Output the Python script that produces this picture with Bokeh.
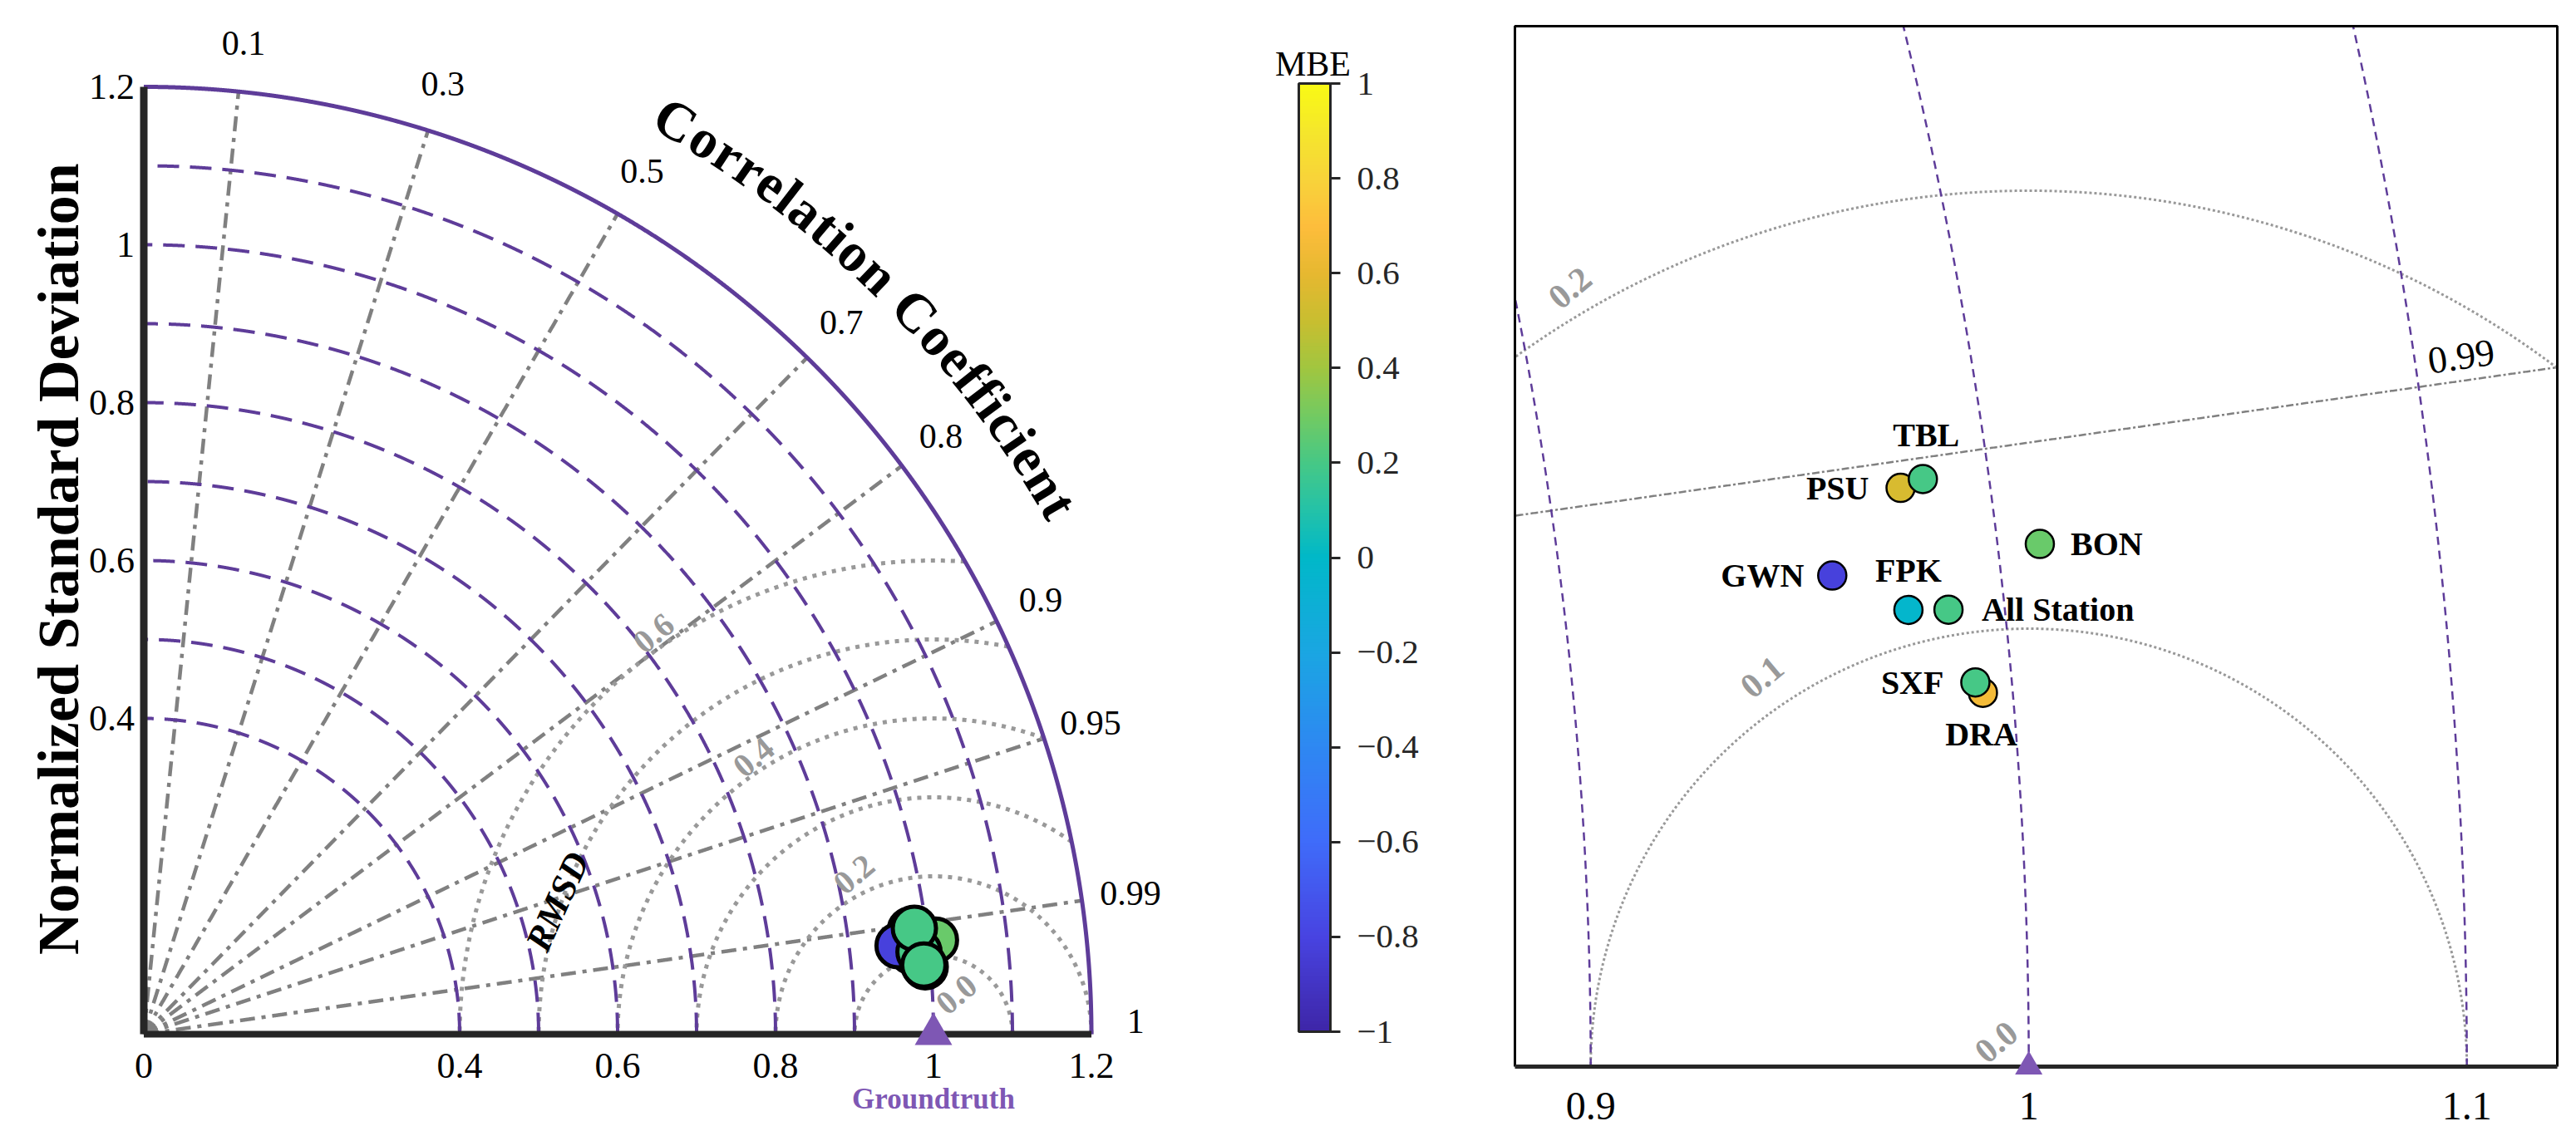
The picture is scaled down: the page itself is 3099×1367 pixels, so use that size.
import numpy as np
from bokeh.plotting import figure
from bokeh.models import Range1d, ColumnDataSource, LinearColorMapper, ColorBar, FixedTicker
from bokeh.layouts import row
from bokeh.embed import file_html
from bokeh.resources import INLINE
from bokeh.core.properties import value
from bokeh.transform import transform

# ---------------- data ----------------
stations = ["PSU", "DRA", "FPK", "GWN", "BON", "All Station", "TBL", "SXF"]
norm_std = [0.9797, 0.9932, 0.9781, 0.9617, 1.0096, 0.9872, 0.9850, 0.9917]
corr_coef = [0.99086, 0.99630, 0.99430, 0.99318, 0.99299, 0.99440, 0.99068, 0.99608]
mbe = [0.55, 0.66, -0.03, -0.82, 0.28, 0.20, 0.20, 0.20]

ref_std = 1.0
corr_ticks = [0.1, 0.3, 0.5, 0.7, 0.8, 0.9, 0.95, 0.99]
corr_tick_labels = ["0.1", "0.3", "0.5", "0.7", "0.8", "0.9", "0.95", "0.99"]
std_arcs = [0.4, 0.5, 0.6, 0.7, 0.8, 0.9, 1.0, 1.1]
std_max = 1.2
rmsd_levels = [0.1, 0.2, 0.3, 0.4, 0.5, 0.6]
x_ticks = [0, 0.4, 0.6, 0.8, 1.0, 1.2]
x_tick_labels = ["0", "0.4", "0.6", "0.8", "1", "1.2"]
y_ticks = [0.4, 0.6, 0.8, 1.0, 1.2]
y_tick_labels = ["0.4", "0.6", "0.8", "1", "1.2"]
mbe_ticks = [-1, -0.8, -0.6, -0.4, -0.2, 0, 0.2, 0.4, 0.6, 0.8, 1]
mbe_tick_labels = ["\u22121", "\u22120.8", "\u22120.6", "\u22120.4", "\u22120.2", "0",
                   "0.2", "0.4", "0.6", "0.8", "1"]
zoom_ticks = [0.9, 1.0, 1.1]
zoom_tick_labels = ["0.9", "1", "1.1"]
rmsd_left_labels = ["0.0", "0.2", "0.4", "0.6"]
rmsd_right_labels = ["0.0", "0.1", "0.2"]

# ---------------- styles / positions ----------------
FONT = value("Liberation Serif")
PURPLE = "#5e3c99"
GT = "#7e57b4"
GRAY = "#808080"
LGRAY = "#999999"
DARK = "#262626"

stop_v = [-1, -0.8, -0.6, -0.4, -0.2, 0, 0.1, 0.2, 0.3, 0.4, 0.5, 0.6, 0.7, 0.8, 0.9, 1]
stop_c = ["#3e26a8", "#4844e2", "#3f6cfa", "#2e88f2", "#1aa6e2", "#00b8c8", "#24c2a8",
          "#46c886", "#72ca62", "#a0c640", "#c8be30", "#e6b830", "#fdbd3c", "#f8d33a",
          "#f5e62c", "#f9f915"]


def h2r(h):
    return [int(h[i:i + 2], 16) for i in (1, 3, 5)]


vals = np.linspace(-1, 1, 256)
chan = [np.interp(vals, stop_v, [h2r(c)[k] for c in stop_c]) for k in range(3)]
palette = ["#%02x%02x%02x" % (int(round(r)), int(round(g)), int(round(b))) for r, g, b in zip(*chan)]
mapper = LinearColorMapper(palette=palette, low=-1, high=1)

std = np.array(norm_std)
cc = np.array(corr_coef)
px = std * cc
py = std * np.sqrt(1 - cc ** 2)

lab_align = {"PSU": "right", "DRA": "center", "FPK": "center", "GWN": "right",
             "BON": "left", "All Station": "left", "TBL": "center", "SXF": "right"}
lab_dx = {"PSU": -38, "DRA": -2, "FPK": 0, "GWN": -34, "BON": 37, "All Station": 40, "TBL": 4, "SXF": -38}
lab_dy = {"PSU": 0, "DRA": 50, "FPK": -47, "GWN": 0, "BON": 0, "All Station": 0, "TBL": -53, "SXF": 0}

src = ColumnDataSource(dict(x=px, y=py, mbe=mbe, name=stations,
                            al=[lab_align[s] for s in stations],
                            dx=[lab_dx[s] for s in stations],
                            dy=[lab_dy[s] for s in stations]))


def clip(x, y, box):
    x = np.asarray(x)
    y = np.asarray(y)
    if box is None:
        return list(x), list(y)
    m = (x >= box[0]) & (x <= box[1]) & (y >= box[2]) & (y <= box[3])
    return list(x[m]), list(y[m])


def draw_grid(p, arc_w, arc_dash, outer_w, corr_w, corr_dash, rms_w, rms_dash, box=None, n=4000):
    th = np.linspace(0, np.pi / 2, n)
    # correlation rays
    t = np.linspace(0, std_max, n)
    xs, ys = [], []
    for c in corr_ticks:
        a, b = clip(t * c, t * np.sqrt(1 - c * c), box)
        xs.append(a)
        ys.append(b)
    p.multi_line(xs, ys, line_color=GRAY, line_width=corr_w, line_dash=corr_dash)
    # RMSD circles
    xs, ys = [], []
    t2 = np.linspace(0, np.pi, n)
    for r in rmsd_levels:
        cx = ref_std + r * np.cos(t2)
        cy = r * np.sin(t2)
        m = np.hypot(cx, cy) <= std_max
        a, b = clip(cx[m], cy[m], box)
        xs.append(a)
        ys.append(b)
    p.multi_line(xs, ys, line_color=LGRAY, line_width=rms_w, line_dash=rms_dash)
    # std arcs
    xs, ys = [], []
    for r in std_arcs:
        a, b = clip(r * np.cos(th), r * np.sin(th), box)
        xs.append(a)
        ys.append(b)
    p.multi_line(xs, ys, line_color=PURPLE, line_width=arc_w, line_dash=arc_dash)
    a, b = clip(std_max * np.cos(th), std_max * np.sin(th), box)
    p.line(a, b, line_color=PURPLE, line_width=outer_w)


H = 1367
# ================= left: Taylor diagram =================
SC = 950.0
OX, OY = 172.5, 1244.0
WL = 1780
L = figure(width=WL, height=H,
           x_range=Range1d(-OX / SC, (WL - OX) / SC),
           y_range=Range1d(-(H - OY) / SC, OY / SC),
           x_axis_type=None, y_axis_type=None, toolbar_location=None,
           output_backend="svg", min_border=0, outline_line_color=None)
L.grid.visible = False

draw_grid(L, 4, "26 13", 5, 4.5, "18 8 5 8", 5, "5 7")

# axes lines
L.segment(x0=[0], y0=[0], x1=[std_max], y1=[0], line_color=DARK, line_width=8)
L.segment(x0=[0], y0=[0], x1=[0], y1=[std_max], line_color=DARK, line_width=9)

# tick labels
L.text(x=x_ticks, y=[0] * len(x_ticks), text=x_tick_labels, y_offset=38, text_font=FONT,
       text_font_size="44px", text_align="center", text_baseline="middle", text_color="black")
L.text(x=[0] * len(y_ticks), y=y_ticks, text=y_tick_labels, x_offset=-11, text_font=FONT,
       text_font_size="44px", text_align="right", text_baseline="middle", text_color="black")

# correlation labels
ang = np.arccos(np.array(corr_ticks))
RL = 1.262
L.text(x=RL * np.cos(ang), y=RL * np.sin(ang), text=corr_tick_labels, text_font=FONT,
       text_font_size="42px", text_align="center", text_baseline="middle", text_color="black")
L.text(x=[1.256], y=[0], text=["1"], y_offset=-16, text_font=FONT,
       text_font_size="42px", text_align="center", text_baseline="middle", text_color="black")

# RMSD labels
rl_r = np.array([0.058, 0.226, 0.418, 0.619])
rl_a = np.radians([59.8, 116.4, 123.0, 124.9])
L.text(x=ref_std + rl_r * np.cos(rl_a), y=rl_r * np.sin(rl_a), text=rmsd_left_labels,
       angle=np.radians(40), text_font=FONT, text_font_size="40px", text_font_style="bold",
       text_color=LGRAY, text_align="center", text_baseline="middle")
L.text(x=[0.524], y=[0.168], text=["RMSD"], angle=np.radians(65.6), text_font=FONT,
       text_font_size="44px", text_font_style="bold italic", text_color="black",
       text_align="center", text_baseline="middle")

# y title
L.text(x=[(70 - OX) / SC], y=[0.602], text=["Normalized Standard Deviation"], angle=np.pi / 2,
       text_font=FONT, text_font_size="70px", text_font_style="bold", text_color="black",
       text_align="center", text_baseline="alphabetic")

# curved correlation title
title_txt = "Correlation Coefficient"
tw = {'C': 0.722, 'o': 0.5, 'r': 0.444, 'e': 0.444, 'l': 0.278, 'a': 0.5, 't': 0.333,
      'i': 0.278, 'n': 0.556, ' ': 0.25, 'f': 0.333, 'c': 0.444}
wv = np.array([tw[ch] for ch in title_txt])
cum = np.cumsum(wv) - wv / 2
s = (cum - cum[0]) / (cum[-1] - cum[0])
th0, th1 = np.radians(59.8), np.radians(30.0)
thetas = th0 + s * (th1 - th0)
rb = 1.339
L.text(x=rb * np.cos(thetas), y=rb * np.sin(thetas), text=list(title_txt), angle=thetas - np.pi / 2,
       text_font=FONT, text_font_size="66px", text_font_style="bold", text_color="black",
       text_align="center", text_baseline="alphabetic")

# groundtruth
L.scatter(x=[ref_std], y=[0], marker="triangle", size=45, fill_color=GT, line_color=None)
L.text(x=[ref_std], y=[0], text=["Groundtruth"], y_offset=78, text_font=FONT, text_font_size="35px",
       text_font_style="bold", text_color=GT, text_align="center", text_baseline="middle")

# stations
L.scatter("x", "y", source=src, size=52, fill_color=transform("mbe", mapper),
          line_color="black", line_width=5)

# colorbar (bar: page x 1562..1600, y 100..1241)
cb = ColorBar(color_mapper=mapper, ticker=FixedTicker(ticks=mbe_ticks),
              major_label_overrides={t: l for t, l in zip(mbe_ticks, mbe_tick_labels)},
              width=38, height=1141, location=(1562, H - 1241), padding=0,
              major_label_text_font="Liberation Serif", major_label_text_font_size="41px",
              major_label_text_color=DARK, major_tick_out=12, major_tick_in=0,
              major_tick_line_color=DARK, major_tick_line_width=3, minor_tick_line_color=None,
              bar_line_color=DARK, bar_line_width=3, background_fill_alpha=0,
              border_line_color=None, label_standoff=20)
L.add_layout(cb)
L.text(x=[(1579 - OX) / SC], y=[(OY - 76) / SC], text=["MBE"], text_font=FONT, text_font_size="42px",
       text_color="black", text_align="center", text_baseline="alphabetic")

# ================= right: zoomed view =================
ZS = 5270.0
WR = 3099 - WL
BOX_L, BOX_T, BOX_B = 1822 - WL, 31, 1283   # box in this figure's pixels
BX0 = 0.8827
BX1 = BX0 + 1254 / ZS
BY0, BY1 = 0.0, (BOX_B - BOX_T) / ZS
box = (BX0, BX1, BY0, BY1)
xr0 = BX0 - BOX_L / ZS
R = figure(width=WR, height=H,
           x_range=Range1d(xr0, xr0 + WR / ZS),
           y_range=Range1d(-(H - BOX_B) / ZS, BOX_B / ZS),
           x_axis_type=None, y_axis_type=None, toolbar_location=None, output_backend="svg",
           min_border=0, outline_line_color=None)
R.grid.visible = False

draw_grid(R, 2.5, "10 7", 3, 2.5, "9 3 3 3", 3, "3 3", box=box)

# frame box and bottom axis
R.line(x=[BX0, BX0, BX1, BX1], y=[BY0, BY1, BY1, BY0], line_color="black", line_width=3)
R.segment(x0=[BX0], y0=[0], x1=[BX1], y1=[0], line_color=DARK, line_width=5)
R.text(x=zoom_ticks, y=[0] * len(zoom_ticks), text=zoom_tick_labels, y_offset=47, text_font=FONT,
       text_font_size="48px", text_align="center", text_baseline="middle", text_color="black")

R.text(x=[1.0987], y=[0.1622], text=["0.99"], angle=np.radians(8.1), text_font=FONT,
       text_font_size="46px", text_color="black", text_align="center", text_baseline="middle")
rr_r = np.array([0.0093, 0.1078, 0.2064])
rr_a = np.radians([143.0, 124.4, 120.5])
R.text(x=ref_std + rr_r * np.cos(rr_a), y=rr_r * np.sin(rr_a), text=rmsd_right_labels,
       angle=np.radians(40), text_font=FONT, text_font_size="42px", text_font_style="bold",
       text_color=LGRAY, text_align="center", text_baseline="middle")

R.scatter(x=[ref_std], y=[0], marker="triangle", size=33, fill_color=GT, line_color=None)
R.scatter("x", "y", source=src, size=34, fill_color=transform("mbe", mapper),
          line_color="black", line_width=2.5)
R.text("x", "y", text="name", source=src, x_offset="dx", y_offset="dy", text_align="al",
       text_baseline="middle", text_font=FONT, text_font_size="40px", text_font_style="bold",
       text_color="black")

layout = row(L, R)
open("out.html", "w").write(file_html(layout, INLINE))
